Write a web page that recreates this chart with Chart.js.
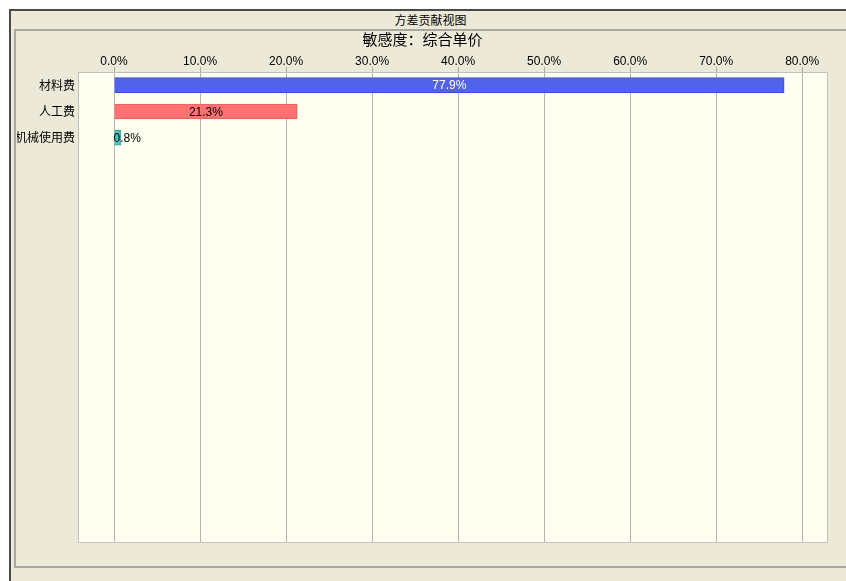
<!DOCTYPE html>
<html>
<head>
<meta charset="utf-8">
<script src="https://cdn.jsdelivr.net/npm/chart.js@4/dist/chart.umd.min.js"></script>
<style>
  html, body { margin: 0; padding: 0; background: #fff; overflow: hidden; }
  #frame {
    position: absolute; left: 9px; top: 9px; width: 845px; height: 580px;
    background: #ECE9D8; border-top: 2px solid #4a4a4a; border-left: 2px solid #4a4a4a;
  }
  #header {
    position: absolute; left: 0; top: 12px; width: 861px; text-align: center;
    font: 12px "Noto Sans CJK SC", sans-serif; color: #000; line-height: 16px;
  }
  #panel {
    position: absolute; left: 14px; top: 29px; width: 840px; height: 535px;
    border: 2px solid #a9a79e;
  }
  #wrap { position: absolute; left: 17px; top: 32px; width: 829px; height: 532px; }
</style>
</head>
<body>
<div id="frame"></div>
<div id="header">方差贡献视图</div>
<div id="panel"></div>
<div id="wrap"><canvas id="chart"></canvas></div>
<script>
// Data
const categories = ['材料费', '人工费', '机械使用费'];
const shares = [77.9, 21.3, 0.8];          // percent of variance
const xTicks = [0, 10, 20, 30, 40, 50, 60, 70, 80];

// Styles
const barColors = ['#5363E9', '#FF7272', '#4CC3C3'];
const barBorders = ['#3F4FD8', '#E86060', '#2FA5A5'];
const labelColors = ['#ffffff', '#000000', '#000000'];

const FONT = '"Liberation Sans", Arial, sans-serif';
const CJK = '"Noto Sans CJK SC", sans-serif';

// Plot background and border
const plotFrame = {
    id: 'plotFrame',
    beforeDraw(chart) {
        const a = chart.chartArea, c = chart.ctx;
        c.save();
        c.fillStyle = '#FFFFF2';
        c.fillRect(a.left, a.top, a.right - a.left, a.bottom - a.top);
        c.restore();
    },
    afterDraw(chart) {
        const a = chart.chartArea, c = chart.ctx;
        c.save();
        c.strokeStyle = '#C2C2BC';
        c.lineWidth = 1;
        c.strokeRect(a.left + 0.5, a.top + 0.5, a.right - a.left - 1, a.bottom - a.top - 1);
        c.restore();
    }
};

// Value labels on bars
const barLabels = {
    id: 'barLabels',
    afterDatasetsDraw(chart) {
        const c = chart.ctx;
        const meta = chart.getDatasetMeta(0);
        c.save();
        c.font = '12px ' + FONT;
        c.textBaseline = 'middle';
        meta.data.forEach((bar, i) => {
            const txt = shares[i].toFixed(1) + '%';
            const w = c.measureText(txt).width;
            const left = Math.min(bar.x, bar.base);
            const bw = Math.abs(bar.x - bar.base);
            c.fillStyle = labelColors[i];
            if (w + 4 < bw) {
                c.textAlign = 'center';
                c.fillText(txt, left + bw / 2, bar.y + 1);
            } else {
                c.textAlign = 'left';
                c.fillText(txt, left - 1, bar.y + 1);
            }
        });
        c.restore();
    }
};

new Chart(document.getElementById('chart'), {
    type: 'bar',
    data: {
        datasets: [{
            data: categories.map((name, i) => ({ x: shares[i], y: i })),
            backgroundColor: barColors,
            borderColor: barBorders,
            borderWidth: 1,
            barThickness: 15
        }]
    },
    options: {
        indexAxis: 'y',
        responsive: true,
        maintainAspectRatio: false,
        animation: false,
        layout: { padding: { left: 0, right: 18, top: 0, bottom: 21 } },
        plugins: {
            legend: { display: false },
            tooltip: { enabled: false },
            title: {
                display: true,
                text: '敏感度：综合单价',
                color: '#000',
                font: { family: CJK, size: 15, weight: 'normal' },
                padding: { top: -2, bottom: 0 }
            }
        },
        scales: {
            x: {
                type: 'linear',
                position: 'top',
                bounds: 'data',
                min: -4.19,
                max: 83.0,
                z: 1,
                afterBuildTicks(scale) {
                    scale.ticks = xTicks.map(v => ({ value: v }));
                },
                afterFit(scale) { scale.height = 24; },
                ticks: {
                    includeBounds: false,
                    color: '#000',
                    padding: -2,
                    font: { family: FONT, size: 12 },
                    callback: v => v.toFixed(1) + '%'
                },
                grid: { color: 'rgba(120,120,120,0.55)', tickLength: 5, drawTicks: true },
                border: { display: false }
            },
            y: {
                type: 'linear',
                reverse: true,
                offset: false,
                bounds: 'data',
                min: -0.5,
                max: 17.4,
                afterBuildTicks(scale) {
                    scale.ticks = categories.map((n, i) => ({ value: i }));
                },
                afterFit(scale) { scale.width = 61; },
                ticks: {
                    includeBounds: false,
                    autoSkip: false,
                    color: '#000',
                    padding: 3,
                    font: { family: CJK, size: 12 },
                    callback: v => categories[v] || ''
                },
                grid: { display: false, drawTicks: false, tickLength: 0 },
                border: { display: false }
            }
        }
    },
    plugins: [plotFrame, barLabels]
});
</script>
</body>
</html>
